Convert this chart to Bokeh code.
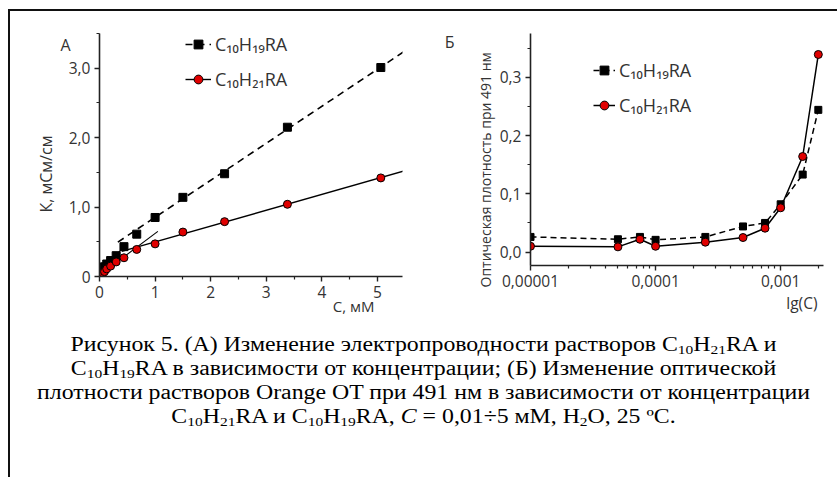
import numpy as np
from bokeh.plotting import figure
from bokeh.models import (FixedTicker, CustomJSTickFormatter, Legend, LegendItem, Div,
                          Title, LinearAxis)
from bokeh.layouts import column, row
from bokeh.embed import file_html
from bokeh.resources import INLINE

# ---- Panel A: specific conductivity vs concentration (mM) ----
conc_mM = [0.04, 0.06, 0.09, 0.13, 0.2, 0.3, 0.44, 0.67, 1.0, 1.5, 2.25, 3.38, 5.06]
kappa_c10h19 = [0.08, 0.11, 0.14, 0.18, 0.23, 0.30, 0.43, 0.61, 0.85, 1.14, 1.48, 2.15, 3.01]
kappa_c10h21 = [0.03, 0.05, 0.07, 0.11, 0.15, 0.21, 0.27, 0.39, 0.47, 0.64, 0.79, 1.04, 1.42]
a_xticks = [0, 1, 2, 3, 4, 5]
a_yticks = [0, 1, 2, 3]

# ---- Panel B: optical density at 491 nm vs concentration (M) ----
conc_M = [1e-5, 5e-5, 7.5e-5, 1e-4, 2.5e-4, 5e-4, 7.5e-4, 1e-3, 1.5e-3, 2e-3]
od_c10h19 = [0.026, 0.022, 0.026, 0.021, 0.026, 0.044, 0.050, 0.082, 0.133, 0.244]
od_c10h21 = [0.010, 0.009, 0.022, 0.010, 0.017, 0.025, 0.041, 0.076, 0.164, 0.339]
b_xticks = [1e-5, 1e-4, 1e-3]
b_yticks = [0.0, 0.1, 0.2, 0.3]

name_19 = "C₁₀H₁₉RA"
name_21 = "C₁₀H₂₁RA"

caption_lines = [
    "Рисунок 5. (А) Изменение электропроводности растворов C<sub>10</sub>H<sub>21</sub>RA и",
    "C<sub>10</sub>H<sub>19</sub>RA в зависимости от концентрации; (Б) Изменение оптической",
    "плотности растворов Orange OT при 491 нм в зависимости от концентрации",
    "C<sub>10</sub>H<sub>21</sub>RA и C<sub>10</sub>H<sub>19</sub>RA, <i>C</i> = 0,01÷5 мМ, H<sub>2</sub>O, 25 ºC.",
]

FONT = "Open Sans"
TXT = "#333333"
AX = "#222222"


def style_axes(p):
    for ax in (p.xaxis[0], p.yaxis[0]):
        ax.axis_line_color = AX
        ax.axis_line_width = 1.6
        ax.major_tick_line_color = AX
        ax.major_tick_line_width = 1.4
        ax.minor_tick_line_color = AX
        ax.minor_tick_line_width = 1.2
        ax.major_tick_out = 5
        ax.major_tick_in = 0
        ax.minor_tick_out = 3
        ax.minor_tick_in = 0
        ax.major_label_text_font = FONT
        ax.major_label_text_font_size = "15.5px"
        ax.major_label_text_color = TXT
        ax.major_label_standoff = 4
    p.grid.visible = False
    p.outline_line_color = None
    p.background_fill_color = "white"
    p.border_fill_color = "white"
    try:
        p.frame_align = False
    except AttributeError:
        pass


def side_title(p, text, side, align, offset, standoff, size="16px"):
    p.add_layout(Title(text=text, align=align, offset=offset, standoff=standoff,
                       text_font=FONT, text_font_size=size, text_font_style="normal",
                       text_color=TXT), side)


def text_axis(p, side, text, at, standoff, size="16px"):
    # a bare extra axis whose single tick label carries a piece of text
    ax = LinearAxis(ticker=FixedTicker(ticks=[at]),
                    formatter=CustomJSTickFormatter(code=f"return '{text}';"),
                    axis_line_color=None, major_tick_line_color=None,
                    minor_tick_line_color=None, major_tick_out=0, major_tick_in=0,
                    minor_tick_out=0, minor_tick_in=0, major_label_standoff=standoff,
                    major_label_text_font=FONT, major_label_text_font_size=size,
                    major_label_text_color=TXT)
    p.add_layout(ax, side)


def make_legend(p, items, loc, glyph_w):
    lg = Legend(items=items, location=loc, orientation="vertical",
                label_text_font=FONT, label_text_font_size="18px", label_text_color=TXT,
                glyph_width=glyph_w, glyph_height=22, label_height=22, label_standoff=4,
                spacing=11, padding=0, margin=0, border_line_color=None,
                background_fill_alpha=0)
    p.add_layout(lg)


# ================= Panel A =================
pA = figure(width=422, height=310, x_range=(0, 5.45), y_range=(0, 3.5),
            min_border_left=89, min_border_right=30, min_border_top=22, min_border_bottom=45,
            output_backend="svg", toolbar_location=None)
style_axes(pA)
pA.xaxis.ticker = FixedTicker(ticks=a_xticks, minor_ticks=[0.5, 1.5, 2.5, 3.5, 4.5])
pA.yaxis.ticker = FixedTicker(ticks=a_yticks, minor_ticks=[0.5, 1.5, 2.5, 3.5])
pA.yaxis.formatter = CustomJSTickFormatter(
    code="return tick == 0 ? '0' : tick.toFixed(1).replace('.', ',');")

xa = np.array(conc_mM)
y19 = np.array(kappa_c10h19)
y21 = np.array(kappa_c10h21)
hi = xa >= 1.0
lo = xa <= 0.45

# linear fits: high-concentration branch and low-concentration branch
k19h, b19h = np.polyfit(xa[hi], y19[hi], 1)
k21h, b21h = np.polyfit(xa[hi], y21[hi], 1)
k19l, b19l = np.polyfit(xa[lo], y19[lo], 1)
k21l, b21l = np.polyfit(xa[lo], y21[lo], 1)

fx19h = np.array([0.33, 5.6])
fx21h = np.array([0.4, 5.6])
fx19l = np.array([0.0, 0.45])
fx21l = np.array([0.0, 1.05])

l19 = pA.line(fx19h, k19h * fx19h + b19h, line_color="black", line_width=1.6, line_dash="7 5")
l21 = pA.line(fx21h, k21h * fx21h + b21h, line_color="black", line_width=1.4)
pA.line(fx19l, k19l * fx19l + b19l, line_color="black", line_width=1.1)
pA.line(fx21l, k21l * fx21l + b21l, line_color="black", line_width=1.1)

s19 = pA.scatter(conc_mM, kappa_c10h19, marker="square", size=8,
                 fill_color="black", line_color="black")
s21 = pA.scatter(conc_mM, kappa_c10h21, marker="circle", size=8,
                 fill_color="#e00000", line_color="black", line_width=1)

make_legend(pA, [LegendItem(label=name_19, renderers=[l19, s19]),
                 LegendItem(label=name_21, renderers=[l21, s21])], (86, 185), 26)

text_axis(pA, "left", "А", 3.34, -5)
side_title(pA, "К, мСм/см", "left", "left", 64, 2)
text_axis(pA, "below", "С, мМ", 4.57, -5, size="15px")

# ================= Panel B =================
pB = figure(width=405, height=310, x_axis_type="log", x_range=(1e-5, 2.2e-3),
            y_range=(-0.023, 0.375),
            min_border_left=98, min_border_right=14, min_border_top=22, min_border_bottom=56,
            output_backend="svg", toolbar_location=None)
style_axes(pB)
minor_log = [m * d for d in (1e-5, 1e-4) for m in range(2, 10)] + [2e-3]
pB.xaxis.ticker = FixedTicker(ticks=b_xticks, minor_ticks=minor_log)
pB.xaxis.formatter = CustomJSTickFormatter(
    code="return tick.toFixed(Math.round(-Math.log10(tick))).replace('.', ',');")
pB.yaxis.ticker = FixedTicker(ticks=b_yticks, minor_ticks=[0.05, 0.15, 0.25, 0.35])
pB.yaxis.formatter = CustomJSTickFormatter(code="return tick.toFixed(1).replace('.', ',');")

bl19 = pB.line(conc_M, od_c10h19, line_color="black", line_width=1.5, line_dash="6 4")
bl21 = pB.line(conc_M, od_c10h21, line_color="black", line_width=1.5)
bs19 = pB.scatter(conc_M, od_c10h19, marker="square", size=7,
                  fill_color="black", line_color="black")
bs21 = pB.scatter(conc_M, od_c10h21, marker="circle", size=8,
                  fill_color="#e00000", line_color="black", line_width=1)

make_legend(pB, [LegendItem(label=name_19, renderers=[bl19, bs19]),
                 LegendItem(label=name_21, renderers=[bl21, bs21])], (63, 148), 22)

side_title(pB, "Оптическая плотность при 491 нм", "left", "left", -22, 3, size="14px")
text_axis(pB, "left", "Б", 0.361, 18)
side_title(pB, "lg(C)", "below", "right", 6, 0, size="15.5px")

# ================= Caption =================
sub_style = "font-size:13px;vertical-align:-3px;line-height:0;"
cap_html = "<br>".join(caption_lines).replace("<sub>", f'<sub style="{sub_style}">')
caption = Div(
    text=('<div style="font-family:\'Liberation Serif\',\'Times New Roman\',serif;'
          'font-size:20px;line-height:24px;text-align:center;color:#000;'
          'padding-top:6px;width:817px;transform:scaleX(1.19);transform-origin:center;">'
          + cap_html + "</div>"),
    width=817, height=156)

layout = column(row(pA, pB), caption, margin=(9, 0, 0, 8),
                styles={"border-top": "2px solid #111", "border-left": "2px solid #111"})

with open("out.html", "w") as f:
    f.write(file_html(layout, INLINE))
